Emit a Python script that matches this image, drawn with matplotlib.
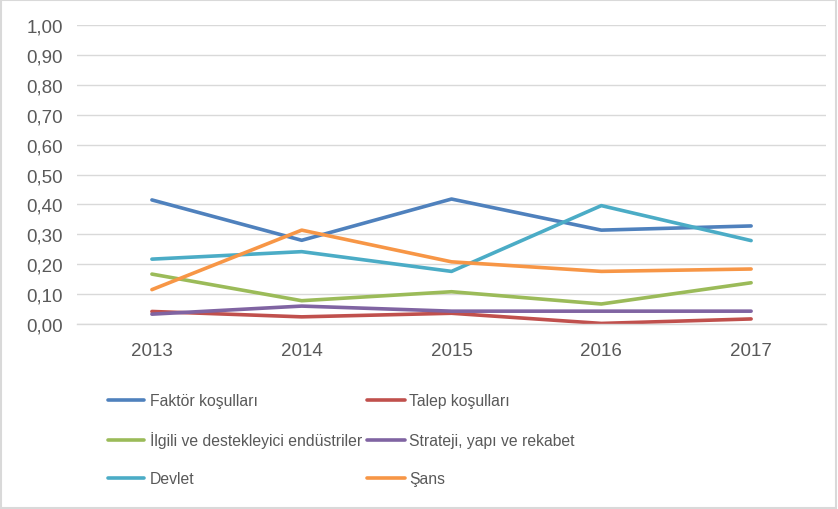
import matplotlib.pyplot as plt
from matplotlib.lines import Line2D
from matplotlib.ticker import FuncFormatter

plt.rcParams["font.family"] = ["Liberation Sans", "DejaVu Sans"]

years = ["2013", "2014", "2015", "2016", "2017"]
faktor = [0.415, 0.280, 0.418, 0.314, 0.328]
talep = [0.042, 0.024, 0.036, 0.002, 0.017]
ilgili = [0.167, 0.078, 0.108, 0.067, 0.138]
strateji = [0.033, 0.060, 0.043, 0.043, 0.043]
devlet = [0.217, 0.242, 0.176, 0.396, 0.279]
sans = [0.115, 0.314, 0.208, 0.176, 0.184]

series = [
    ("Faktör koşulları", faktor, "#4F81BD"),
    ("Talep koşulları", talep, "#C0504D"),
    ("İlgili ve destekleyici endüstriler", ilgili, "#9BBB59"),
    ("Strateji, yapı ve rekabet", strateji, "#8064A2"),
    ("Devlet", devlet, "#4BACC6"),
    ("Şans", sans, "#F79646"),
]

W, H = 838, 510
fig = plt.figure(figsize=(W / 100, H / 100), dpi=100)
ax = fig.add_axes([0.0919, 0.3627, 0.8938, 0.5863])

x = list(range(len(years)))
for name, vals, col in series:
    ax.plot(x, vals, color=col, linewidth=2.6, label=name, solid_capstyle="round")

ax.set_xlim(-0.5, len(years) - 0.5)
ax.set_ylim(0, 1.0)
ax.set_yticks([i / 10 for i in range(11)])
ax.yaxis.set_major_formatter(FuncFormatter(lambda v, p: f"{v:.2f}".replace(".", ",")))
ax.set_xticks(x)
ax.set_xticklabels(years)
ax.tick_params(axis="both", length=0, labelsize=13.5, colors="#595959")
ax.tick_params(axis="x", pad=13)
ax.tick_params(axis="y", pad=10)
ax.grid(axis="y", color="#D9D9D9", linewidth=1)
ax.set_axisbelow(True)
for s in ["top", "right", "left"]:
    ax.spines[s].set_visible(False)
ax.spines["bottom"].set_color("#D9D9D9")
ax.spines["bottom"].set_linewidth(1)

# legend laid out by hand: two columns, three rows (pixel positions)
col_x = [(108, 144, 150), (367, 405, 409)]
row_y = [401, 441, 479]
for i, (name, vals, col) in enumerate(series):
    hx0, hx1, tx = col_x[i % 2]
    yy = 1 - row_y[i // 2] / H
    fig.add_artist(Line2D([hx0 / W, hx1 / W], [yy, yy], transform=fig.transFigure,
                          color=col, linewidth=2.6, solid_capstyle="round"))
    fig.text(tx / W, yy - 5 / H, name, fontsize=11.3, color="#595959",
             ha="left", va="baseline")

fig.patches.append(plt.Rectangle((0.001, 0.002), 0.997, 0.996, transform=fig.transFigure,
                                 fill=False, edgecolor="#D9D9D9", linewidth=1.5))

fig.savefig("out.png", dpi=100)
